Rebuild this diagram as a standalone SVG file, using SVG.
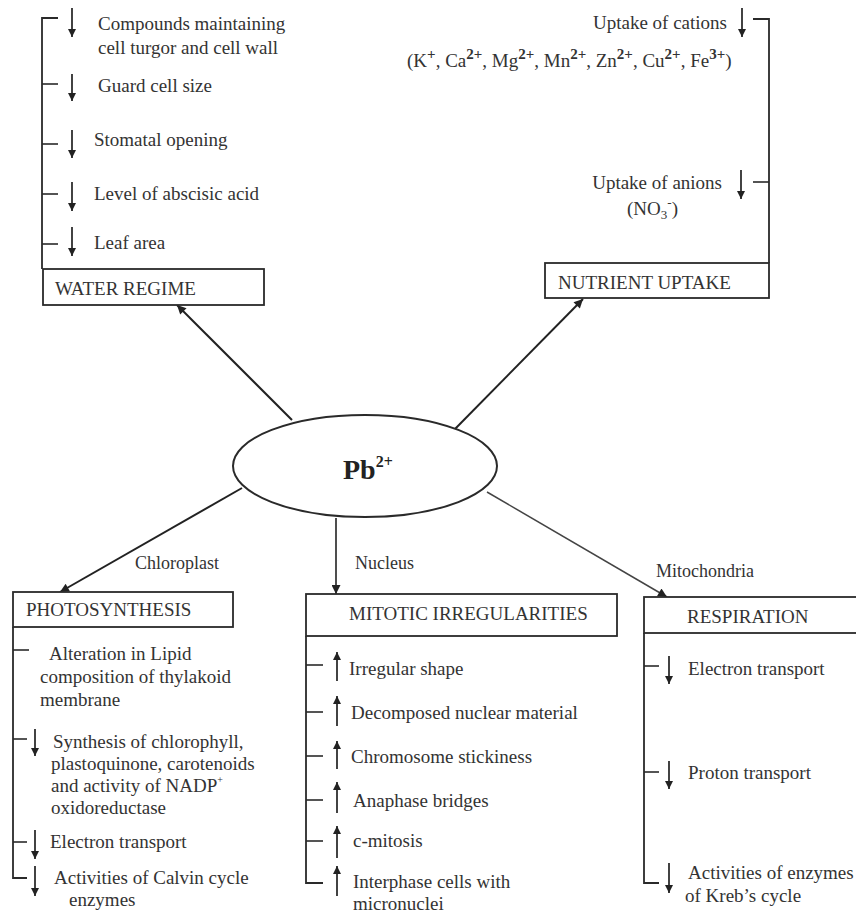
<svg xmlns="http://www.w3.org/2000/svg" width="856" height="915" viewBox="0 0 856 915">
<defs>
<style>
text{font-family:"Liberation Serif","Times New Roman",serif;font-size:19px;fill:#333;}
.box{fill:#fff;stroke:#2a2a2a;stroke-width:1.8;}
.br{fill:none;stroke:#2a2a2a;stroke-width:1.8;}
.tk{fill:none;stroke:#2a2a2a;stroke-width:1.6;}
.ar{stroke:#222;stroke-width:1.7;marker-end:url(#sa);}
.con{fill:none;stroke:#222;stroke-width:2;marker-end:url(#la);}
.lbl{font-size:18px;}
.sup{font-size:13px;}
.ion{font-size:15px;font-weight:bold;}
</style>
<marker id="sa" viewBox="0 0 10 10" refX="10" refY="5" markerWidth="9" markerHeight="8" markerUnits="userSpaceOnUse" orient="auto"><path d="M0,0 L10,5 L0,10 z" fill="#222"/></marker>
<marker id="la" viewBox="0 0 10 10" refX="10" refY="5" markerWidth="11" markerHeight="9" markerUnits="userSpaceOnUse" orient="auto"><path d="M0,0 L10,5 L0,10 z" fill="#222"/></marker>
</defs>
<rect width="856" height="915" fill="#fff"/>

<g id="connectors">
<line class="con" x1="292" y1="420" x2="177" y2="305"/>
<line class="con" x1="455" y1="429" x2="583" y2="299"/>
<line class="con" x1="242" y1="488" x2="60" y2="592"/>
<line class="con" x1="336" y1="518" x2="336" y2="594" style="stroke-width:1.6"/>
<line class="con" x1="487" y1="492" x2="667" y2="597" style="stroke-width:1.5;stroke:#444"/>
<text class="lbl" x="135" y="569">Chloroplast</text>
<text class="lbl" x="355" y="569">Nucleus</text>
<text class="lbl" x="656" y="577">Mitochondria</text>
</g>

<g id="pb">
<ellipse cx="365" cy="466" rx="132" ry="51" fill="#fff" stroke="#2a2a2a" stroke-width="2"/>
<text x="343" y="479" style="font-size:28px;font-weight:bold;fill:#222">Pb<tspan style="font-size:16px" dy="-12">2+</tspan></text>
</g>

<g id="water-regime">
<path class="br" d="M58,18 H42 V269"/>
<line class="tk" x1="42" y1="84" x2="58" y2="84"/>
<line class="tk" x1="42" y1="144" x2="58" y2="144"/>
<line class="tk" x1="42" y1="194" x2="58" y2="194"/>
<line class="tk" x1="42" y1="244" x2="58" y2="244"/>
<line class="ar" x1="72" y1="8" x2="72" y2="37"/>
<line class="ar" x1="72" y1="74" x2="72" y2="101"/>
<line class="ar" x1="72" y1="130" x2="72" y2="158"/>
<line class="ar" x1="72" y1="182" x2="72" y2="211"/>
<line class="ar" x1="72" y1="227" x2="72" y2="256"/>
<text x="98" y="30">Compounds maintaining</text>
<text x="98" y="54">cell turgor and cell wall</text>
<text x="98" y="92">Guard cell size</text>
<text x="94" y="146">Stomatal opening</text>
<text x="94" y="200">Level of abscisic acid</text>
<text x="94" y="249">Leaf area</text>
<rect class="box" x="43" y="269" width="221" height="36"/>
<text x="55" y="295">WATER REGIME</text>
</g>

<g id="nutrient-uptake">
<path class="br" d="M753,19 H769 V263"/>
<line class="tk" x1="753" y1="182" x2="769" y2="182"/>
<line class="ar" x1="742" y1="8" x2="742" y2="37"/>
<line class="ar" x1="741" y1="170" x2="741" y2="199"/>
<text x="727" y="29" text-anchor="end">Uptake of cations</text>
<text x="407" y="67">(K<tspan class="ion" dy="-8">+</tspan><tspan dy="8">, Ca</tspan><tspan class="ion" dy="-8">2+</tspan><tspan dy="8">, Mg</tspan><tspan class="ion" dy="-8">2+</tspan><tspan dy="8">, Mn</tspan><tspan class="ion" dy="-8">2+</tspan><tspan dy="8">, Zn</tspan><tspan class="ion" dy="-8">2+</tspan><tspan dy="8">, Cu</tspan><tspan class="ion" dy="-8">2+</tspan><tspan dy="8">, Fe</tspan><tspan class="ion" dy="-8">3+</tspan><tspan dy="8">)</tspan></text>
<text x="722" y="189" text-anchor="end">Uptake of anions</text>
<text x="627" y="215">(NO<tspan class="sup" dy="4">3</tspan><tspan class="sup" dy="-12">-</tspan><tspan dy="8">)</tspan></text>
<rect class="box" x="545" y="263" width="224" height="35"/>
<text x="558" y="289">NUTRIENT UPTAKE</text>
</g>

<g id="photosynthesis">
<rect class="box" x="13" y="592" width="220" height="35"/>
<text x="26" y="616">PHOTOSYNTHESIS</text>
<path class="br" d="M13,627 V878 H27"/>
<line class="tk" x1="13" y1="650" x2="29" y2="650"/>
<line class="tk" x1="13" y1="739" x2="27" y2="739"/>
<line class="tk" x1="13" y1="842" x2="27" y2="842"/>
<line class="ar" x1="35" y1="729" x2="35" y2="756"/>
<line class="ar" x1="35" y1="830" x2="35" y2="859"/>
<line class="ar" x1="35" y1="866" x2="35" y2="896"/>
<text x="49" y="660">Alteration in Lipid</text>
<text x="40" y="683">composition of thylakoid</text>
<text x="40" y="706">membrane</text>
<text x="53" y="748">Synthesis of chlorophyll,</text>
<text x="51" y="770">plastoquinone, carotenoids</text>
<text x="51" y="792">and activity of NADP<tspan class="sup" style="font-size:10px" dy="-9">+</tspan></text>
<text x="51" y="814">oxidoreductase</text>
<text x="50" y="848">Electron transport</text>
<text x="54" y="884">Activities of Calvin cycle</text>
<text x="69" y="906">enzymes</text>
</g>

<g id="mitotic-irregularities">
<rect class="box" x="306" y="594" width="311" height="42"/>
<text x="349" y="620">MITOTIC IRREGULARITIES</text>
<path class="br" d="M306,636 V883 H323"/>
<line class="tk" x1="306" y1="665" x2="323" y2="665"/>
<line class="tk" x1="306" y1="712" x2="323" y2="712"/>
<line class="tk" x1="306" y1="756" x2="323" y2="756"/>
<line class="tk" x1="306" y1="800" x2="323" y2="800"/>
<line class="tk" x1="306" y1="841" x2="323" y2="841"/>
<line class="ar" x1="337" y1="681" x2="337" y2="652"/>
<line class="ar" x1="337" y1="726" x2="337" y2="696"/>
<line class="ar" x1="337" y1="769" x2="337" y2="741"/>
<line class="ar" x1="337" y1="813" x2="337" y2="782"/>
<line class="ar" x1="337" y1="858" x2="337" y2="826"/>
<line class="ar" x1="337" y1="896" x2="337" y2="866"/>
<text x="349" y="675">Irregular shape</text>
<text x="351" y="719">Decomposed nuclear material</text>
<text x="351" y="763">Chromosome stickiness</text>
<text x="353" y="807">Anaphase bridges</text>
<text x="353" y="847">c-mitosis</text>
<text x="353" y="888">Interphase cells with</text>
<text x="353" y="910">micronuclei</text>
</g>

<g id="respiration">
<rect class="box" x="644" y="597" width="220" height="36"/>
<text x="687" y="623">RESPIRATION</text>
<path class="br" d="M644,633 V883 H659"/>
<line class="tk" x1="644" y1="666" x2="659" y2="666"/>
<line class="tk" x1="644" y1="772" x2="659" y2="772"/>
<line class="ar" x1="669" y1="656" x2="669" y2="684"/>
<line class="ar" x1="669" y1="761" x2="669" y2="789"/>
<line class="ar" x1="669" y1="863" x2="669" y2="893"/>
<text x="688" y="675">Electron transport</text>
<text x="688" y="779">Proton transport</text>
<text x="688" y="879">Activities of enzymes</text>
<text x="685" y="902">of Kreb’s cycle</text>
</g>
</svg>
